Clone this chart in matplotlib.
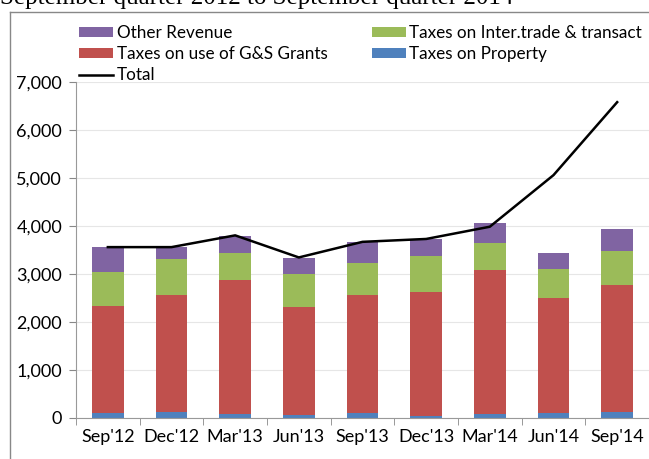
import numpy as np
import matplotlib.pyplot as plt
from matplotlib.lines import Line2D

# quarterly revenue (millions)
quarters = ["Sep'12", "Dec'12", "Mar'13", "Jun'13", "Sep'13",
            "Dec'13", "Mar'14", "Jun'14", "Sep'14"]
property_tax = [100, 130, 90, 60, 100, 50, 75, 100, 130]
gs_tax = [2240, 2430, 2785, 2260, 2460, 2570, 3005, 2410, 2640]
trade_tax = [700, 750, 555, 680, 660, 755, 570, 600, 715]
other_rev = [520, 245, 370, 330, 445, 355, 405, 320, 445]
total = [3560, 3560, 3805, 3345, 3670, 3730, 3985, 5060, 6580]

C_PROP = '#4F81BD'
C_GS = '#C0504D'
C_TRADE = '#9BBB59'
C_OTHER = '#8064A2'

plt.rcParams['font.family'] = ['Lato', 'DejaVu Sans']

fig = plt.figure(figsize=(6.49, 4.59), dpi=100)
ax = fig.add_axes([76 / 649, 1 - 418 / 459, 1 - 76 / 649, (418 - 82) / 459])

x = np.arange(len(quarters))
w = 0.5
b1 = ax.bar(x, property_tax, w, color=C_PROP, label='Taxes on Property')
bottom = np.array(property_tax)
b2 = ax.bar(x, gs_tax, w, bottom=bottom, color=C_GS, label='Taxes on use of G&S Grants')
bottom = bottom + np.array(gs_tax)
b3 = ax.bar(x, trade_tax, w, bottom=bottom, color=C_TRADE, label='Taxes on Inter.trade & transact')
bottom = bottom + np.array(trade_tax)
b4 = ax.bar(x, other_rev, w, bottom=bottom, color=C_OTHER, label='Other Revenue')
ln, = ax.plot(x, total, color='black', lw=1.8, label='Total')

ax.set_xlim(-0.5, len(quarters) - 0.5)
ax.set_ylim(0, 7000)
ax.set_yticks(np.arange(0, 7001, 1000))
ax.set_yticklabels([f'{v:,}' for v in range(0, 7001, 1000)], fontsize=13)
ax.set_xticks(x)
ax.set_xticklabels(quarters, fontsize=13)
ax.set_xticks(np.arange(-0.5, len(quarters), 1), minor=True)
ax.tick_params(axis='x', which='major', length=0, pad=8)
ax.tick_params(axis='x', which='minor', length=5, color='#888888')
ax.tick_params(axis='y', length=5, color='#888888', pad=5)

ax.grid(axis='y', color='#e6e6e6', lw=0.8)
ax.set_axisbelow(True)
for s in ['top', 'right']:
    ax.spines[s].set_visible(False)
ax.spines['left'].set_color('#999999')
ax.spines['bottom'].set_color('#999999')

fig.legend([b4, b2, ln, b3, b1],
           ['Other Revenue', 'Taxes on use of G&S Grants', 'Total',
            'Taxes on Inter.trade & transact', 'Taxes on Property'],
           ncol=2, loc='upper left', bbox_to_anchor=(79 / 649, 1 - 25 / 459),
           frameon=False, fontsize=12.3, handlelength=2.0, handleheight=0.5,
           handletextpad=0.2, labelspacing=0.3, columnspacing=2.6,
           borderaxespad=0, borderpad=0)

# outer frame (left and top edges visible) and clipped heading
fig.add_artist(Line2D([10 / 649, 10 / 649], [0, 1 - 12 / 459], color='#888888', lw=1))
fig.add_artist(Line2D([10 / 649, 1], [1 - 12 / 459, 1 - 12 / 459], color='#888888', lw=1))
fig.text(0, 1 - 4 / 459, 'September quarter 2012 to September quarter 2014',
         family='Liberation Serif', fontsize=18, va='baseline', ha='left')

fig.savefig('out.png', dpi=100)
